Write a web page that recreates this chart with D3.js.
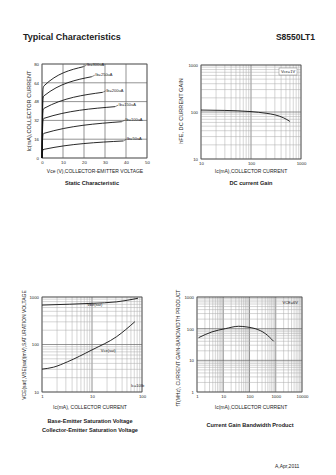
<!DOCTYPE html>
<html><head><meta charset="utf-8">
<script src="https://cdn.jsdelivr.net/npm/d3@7"></script>
<style>
body{margin:0;background:#fff}
svg{display:block}
text{font-family:"Liberation Sans",Arial,sans-serif;fill:#222}
</style>
</head><body>
<svg id="c" width="336" height="475"></svg>
<script>
// ---------- DATA ----------
// Static characteristic
const vceTicks = [0, 10, 20, 30, 40, 50];
const icTicks = [0, 16, 32, 48, 64, 80];
const ibLabels = ["Ib=300uA", "Ib=250uA", "Ib=200uA", "Ib=150uA", "Ib=100uA", "Ib=50uA"];
const staticVce = [
  [0, 0.2, 0.5, 1, 19.7],
  [0, 0.2, 0.5, 1, 23.7],
  [0, 0.2, 0.5, 1, 28.9],
  [0, 0.2, 0.5, 1, 34.8],
  [0, 0.2, 0.5, 1, 38.0],
  [0, 0.2, 0.5, 1, 38.7]
];
const staticIc = [
  [0, 37, 59, 61.5, 77.7],
  [0, 32, 51, 53, 69.2],
  [0, 25, 40.5, 42.3, 55.9],
  [0, 20, 32.4, 33.8, 43.7],
  [0, 12.6, 20.1, 21, 30.9],
  [0, 4.4, 7.1, 7.4, 14.5]
];
// DC current gain
const gainTicksX = [10, 100, 1000];
const gainTicksY = [10, 100, 1000];
const gainIc = [10, 30, 100, 200, 300, 450, 600];
const gainHfe = [110, 108, 102, 94, 87, 75, 63];
// Saturation voltage
const satTicksX = [1, 10, 100];
const satTicksY = [10, 100, 1000];
const vbeIc = [1, 3.6, 10, 31, 83];
const vbeSat = [676, 705, 736, 790, 940];
const vceIc = [1, 1.7, 3.2, 10, 31, 72];
const vceSat = [30.3, 33.3, 43, 77, 146, 302];
// Gain bandwidth
const ftTicksX = [1, 10, 100, 1000, 10000];
const ftTicksY = [1, 10, 100, 1000];
const ftIc = [1.15, 3.7, 12, 38.5, 80, 166, 400, 830];
const ftVal = [52, 79, 100, 119, 113, 100, 70, 40];

// ---------- DRAW ----------
const svg = d3.select("#c");
const F = '"Liberation Sans",Arial,sans-serif';

function txt(x, y, s, size, opts = {}) {
  const t = svg.append("text").attr("x", x).attr("y", y).text(s)
    .attr("font-size", size);
  if (opts.bold) t.attr("font-weight", "bold");
  if (opts.anchor) t.attr("text-anchor", opts.anchor);
  if (opts.rot) t.attr("transform", `rotate(-90,${x},${y})`);
  return t;
}

function isDecade(d) { const l = Math.log10(d); return Math.abs(l - Math.round(l)) < 1e-9; }

function plot(x, y, o) {
  const g = svg.append("g");
  const [x0, x1] = x.range(), [y0, y1] = y.range();
  // vertical grid
  g.append("g").selectAll("line").data(o.xGrid).join("line")
    .attr("x1", d => x(d)).attr("x2", d => x(d)).attr("y1", y0).attr("y2", y1)
    .attr("stroke", d => o.xMajor(d) ? "#666" : "#aaa").attr("stroke-width", d => o.xMajor(d) ? 0.7 : 0.5);
  g.append("g").selectAll("line").data(o.yGrid).join("line")
    .attr("y1", d => y(d)).attr("y2", d => y(d)).attr("x1", x0).attr("x2", x1)
    .attr("stroke", d => o.yMajor(d) ? "#666" : "#aaa").attr("stroke-width", d => o.yMajor(d) ? 0.7 : 0.5);
  g.append("rect").attr("x", x0).attr("y", y1).attr("width", x1 - x0).attr("height", y0 - y1)
    .attr("fill", "none").attr("stroke", "#555").attr("stroke-width", 0.7);
  // axes labels
  const ax = g.append("g").attr("transform", `translate(0,${y0 + 1})`)
    .call(d3.axisBottom(x).tickValues(o.xTicks).tickSize(0).tickPadding(2).tickFormat(d => String(d)));
  const ay = g.append("g").attr("transform", `translate(${x0 - 1},0)`)
    .call(d3.axisLeft(y).tickValues(o.yTicks).tickSize(0).tickPadding(2).tickFormat(d => String(d)));
  [ax, ay].forEach(a => {
    a.select(".domain").remove();
    a.selectAll("text").attr("font-size", 4.3).attr("font-family", F).attr("fill", "#333");
  });
  return g;
}

function curve(g, x, y, xs, ys, curveType) {
  const pts = xs.map((v, i) => [v, ys[i]]);
  g.append("path").datum(pts)
    .attr("d", d3.line().x(d => x(d[0])).y(d => y(d[1])).curve(curveType || d3.curveMonotoneX))
    .attr("fill", "none").attr("stroke", "#111").attr("stroke-width", 0.9);
}

// Header
txt(23, 40, "Typical Characteristics", 9, { bold: true });
txt(315, 40, "S8550LT1", 8.5, { bold: true, anchor: "end" });

// ---- Chart 1: Static Characteristic
{
  const x = d3.scaleLinear().domain([0, 50]).range([42, 147]);
  const y = d3.scaleLinear().domain([0, 80]).range([158, 64]);
  const g = plot(x, y, {
    xGrid: vceTicks, yGrid: icTicks, xMajor: () => true, yMajor: () => true,
    xTicks: vceTicks, yTicks: icTicks
  });
  staticVce.forEach((xs, i) => {
    curve(g, x, y, xs, staticIc[i], d3.curveMonotoneX);
    const n = xs.length - 1;
    const ex = x(xs[n]), ey = y(staticIc[i][n]);
    g.append("line").attr("x1", ex).attr("y1", ey).attr("x2", ex + 3).attr("y2", ey - 1.5)
      .attr("stroke", "#111").attr("stroke-width", 0.5);
    g.append("text").attr("x", ex + 3.5).attr("y", ey - 0.5).text(ibLabels[i])
      .attr("font-size", 4).attr("font-family", F);
  });
  txt(31, 111, "Ic(mA),COLLECTOR CURRENT", 5.6, { rot: true, anchor: "middle" });
  txt(95, 173, "Vce (V),COLLECTOR-EMITTER VOLTAGE", 5, { anchor: "middle" });
  txt(92, 185, "Static Characteristic", 5.6, { bold: true, anchor: "middle" });
}

// ---- Chart 2: DC current gain
{
  const x = d3.scaleLog().domain([10, 1000]).range([201, 301]);
  const y = d3.scaleLog().domain([10, 1000]).range([159, 65]);
  const g = plot(x, y, {
    xGrid: x.ticks(), yGrid: y.ticks(), xMajor: isDecade, yMajor: isDecade,
    xTicks: gainTicksX, yTicks: gainTicksY
  });
  curve(g, x, y, gainIc, gainHfe);
  g.append("rect").attr("x", 279).attr("y", 68).attr("width", 18).attr("height", 7)
    .attr("fill", "#fff").attr("stroke", "#666").attr("stroke-width", 0.4);
  g.append("text").attr("x", 288).attr("y", 73.3).text("Vce=1V").attr("font-size", 4)
    .attr("text-anchor", "middle").attr("font-family", F);
  txt(183, 111, "hFE, DC CURRENT GAIN", 5.6, { rot: true, anchor: "middle" });
  txt(251, 173, "Ic(mA),COLLECTOR CURRENT", 5, { anchor: "middle" });
  txt(251, 185, "DC current Gain", 5.6, { bold: true, anchor: "middle" });
}

// ---- Chart 3: Saturation voltages
{
  const x = d3.scaleLog().domain([1, 100]).range([42, 142]);
  const y = d3.scaleLog().domain([10, 1000]).range([392, 297]);
  const g = plot(x, y, {
    xGrid: x.ticks(), yGrid: y.ticks(), xMajor: isDecade, yMajor: isDecade,
    xTicks: satTicksX, yTicks: satTicksY
  });
  curve(g, x, y, vbeIc, vbeSat);
  curve(g, x, y, vceIc, vceSat);
  g.append("text").attr("x", x(8)).attr("y", y(640)).text("Vbe(sat)").attr("font-size", 4).attr("font-family", F);
  g.append("text").attr("x", x(15)).attr("y", y(70)).text("Vce(sat)").attr("font-size", 4).attr("font-family", F);
  g.append("text").attr("x", x(60)).attr("y", y(12.5)).text("Ic=10Ib").attr("font-size", 4).attr("font-family", F);
  txt(26, 345, "VCE(sat),VBE(sat)(mV),SATURATION VOLTAGE", 5, { rot: true, anchor: "middle" });
  txt(90, 409, "Ic(mA), COLLECTOR CURRENT", 5, { anchor: "middle" });
  txt(90, 423, "Base-Emitter Saturation Voltage", 5.6, { bold: true, anchor: "middle" });
  txt(90, 432, "Collector-Emitter Saturation Voltage", 5.6, { bold: true, anchor: "middle" });
}

// ---- Chart 4: Gain bandwidth product
{
  const x = d3.scaleLog().domain([1, 10000]).range([197, 302]);
  const y = d3.scaleLog().domain([1, 1000]).range([392, 297]);
  const g = plot(x, y, {
    xGrid: x.ticks(), yGrid: y.ticks(), xMajor: isDecade, yMajor: isDecade,
    xTicks: ftTicksX, yTicks: ftTicksY
  });
  curve(g, x, y, ftIc, ftVal);
  g.append("text").attr("x", 298).attr("y", 304).text("VCE=6V").attr("font-size", 4)
    .attr("text-anchor", "end").attr("font-family", F);
  txt(180, 348, "fT(MHz), CURRENT GAIN-BANDWIDTH PRODUCT", 5, { rot: true, anchor: "middle" });
  txt(251, 409, "Ic(mA),COLLECTOR CURRENT", 5, { anchor: "middle" });
  txt(250, 427, "Current Gain Bandwidth Product", 5.6, { bold: true, anchor: "middle" });
}

// Footer
txt(275, 468, "A,Apr,2011", 5, {});
</script>
</body></html>
